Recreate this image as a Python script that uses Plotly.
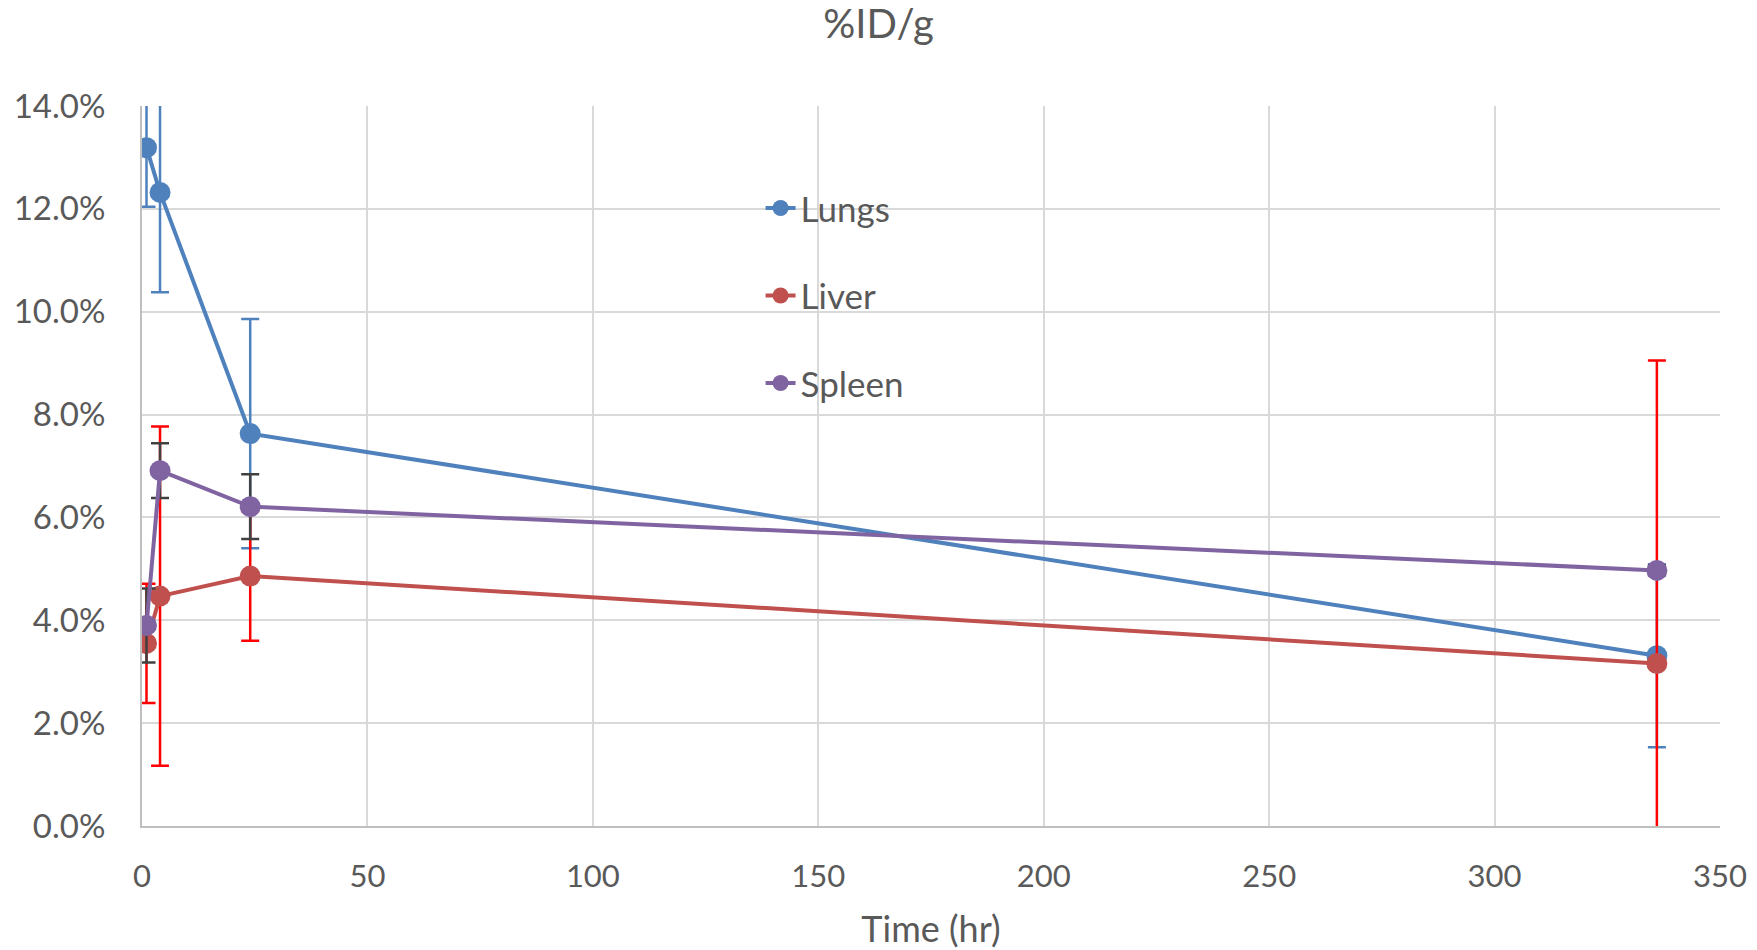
import plotly.graph_objects as go

time_hr = [1, 4, 24, 336]

lungs = [0.1319, 0.1232, 0.0763, 0.0331]
lungs_err = [0.0115, 0.0194, 0.0223, 0.0178]

liver = [0.0355, 0.0447, 0.0486, 0.0316]
liver_err = [0.0116, 0.0330, 0.0126, 0.0589]

spleen = [0.0390, 0.0691, 0.0621, 0.0497]
spleen_err = [0.0072, 0.0053, 0.0063, 0.0010]

series = [
    ("Lungs", lungs, lungs_err, "#4F81BD", "#4F81BD"),
    ("Liver", liver, liver_err, "#C0504D", "#FF0000"),
    ("Spleen", spleen, spleen_err, "#8064A2", "#404040"),
]

FONT = "Lato"
TXT = "#595959"

fig = go.Figure()
for name, vals, errs, col, ecol in series:
    fig.add_trace(go.Scatter(
        x=time_hr, y=vals, name=name, mode="lines+markers",
        legendgroup=name,
        line=dict(color=col, width=4),
        marker=dict(color=col, size=21),
        error_y=dict(type="data", array=errs, visible=True,
                     color=ecol, thickness=2.5, width=9),
    ))

fig.update_layout(
    width=1757, height=950,
    paper_bgcolor="white", plot_bgcolor="white",
    margin=dict(l=142, r=37, t=106, b=124, autoexpand=False),
    font=dict(family=FONT, color=TXT),
    title=dict(text="%ID/g", x=0.5, xanchor="center", xref="container",
               y=1 - 24 / 950, yref="container", yanchor="middle",
               font=dict(size=40, color=TXT, family=FONT)),
    legend=dict(x=0.392, xanchor="left", y=0.899, yanchor="top",
                traceorder="grouped", tracegroupgap=39,
                bgcolor="rgba(0,0,0,0)",
                font=dict(size=35, color=TXT, family=FONT)),
    showlegend=True,
)

fig.update_xaxes(
    range=[0, 350], dtick=50, tick0=0, automargin=False,
    showgrid=True, gridcolor="#D9D9D9", gridwidth=2,
    showline=True, linecolor="#BFBFBF", linewidth=2,
    zeroline=False, ticks="", ticklabelstandoff=22,
    tickfont=dict(size=31, color=TXT, family=FONT),
    title=dict(text="Time (hr)", font=dict(size=36, color=TXT, family=FONT), standoff=25),
)
fig.update_yaxes(
    range=[0, 0.14], dtick=0.02, tick0=0, tickformat=".1%", automargin=False,
    showgrid=True, gridcolor="#D9D9D9", gridwidth=2,
    showline=True, linecolor="#BFBFBF", linewidth=2,
    zeroline=False, ticks="", ticklabelstandoff=28,
    tickfont=dict(size=33, color=TXT, family=FONT),
)

fig.write_html(
    "out.html",
    config={"displayModeBar": False},
    post_script="document.body.style.margin='0';document.body.style.overflow='hidden';",
)
